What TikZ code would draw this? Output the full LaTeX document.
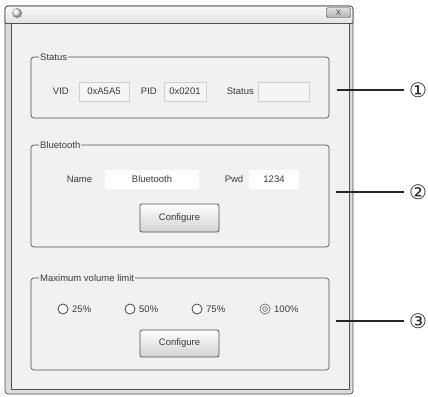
\documentclass[tikz,border=0pt]{standalone}
\usepackage{fontspec}
\setmainfont{Liberation Sans}
\newfontfamily\symfont{DejaVu Sans}
\definecolor{winbg}{HTML}{F1F1F2}
\definecolor{framegray}{HTML}{DCDCDC}
\definecolor{edge}{HTML}{505050}
\definecolor{txt}{HTML}{3A3A3A}
\definecolor{boxedge}{HTML}{CFCFCF}
\definecolor{boxfill}{HTML}{F5F5F5}
\tikzset{
  grp/.style={draw=edge, line width=0.7pt, rounded corners=3pt, minimum width=298pt, inner sep=0pt},
  grptitle/.style={fill=winbg, inner sep=1pt, anchor=west, text=txt},
  lbl/.style={text=txt, inner sep=1pt},
  valbox/.style={draw=boxedge, fill=boxfill, minimum height=19pt, inner sep=0pt, text=txt},
  whitebox/.style={fill=white, minimum height=19pt, inner sep=0pt, text=txt},
  btn/.style={draw=edge, line width=0.7pt, rounded corners=2pt, top color=white, bottom color=gray!35, minimum width=79pt, inner sep=0pt, text=txt},
  radio/.style={circle, draw=black!80, line width=0.7pt, fill=white, minimum size=10pt, inner sep=0pt},
  radiolbl/.style={anchor=west, text=txt, inner sep=1pt},
  callout/.style={line width=1.1pt, draw=black!85},
  num/.style={font=\symfont\fontsize{20}{20}\selectfont, anchor=center, inner sep=0pt, text=black!85}
}
\begin{document}
\begin{tikzpicture}[x=1pt,y=-1pt,font=\fontsize{9.5}{11}\selectfont]
\useasboundingbox (0,0) rectangle (428,396);
\fill[white] (0,0) rectangle (428,396);
% window frame
\draw[draw=edge, fill=framegray, line width=0.7pt, rounded corners=3pt] (5,6) rectangle (353,394);
\shade[top color=gray!5, bottom color=gray!22, rounded corners=3pt] (5.4,6.4) rectangle (352.6,23);
\draw[edge, line width=0.7pt] (5,23) -- (353,23);
\draw[draw=edge, fill=winbg, line width=0.7pt] (11,23) rectangle (349,389);
\draw[edge, line width=0.7pt, rounded corners=3pt] (5,23) -- (5,6) -- (353,6) -- (353,23);
% title bar widgets
\shade[ball color=gray!15] (17,13) circle (5pt);
\node[draw=gray!50!black, rounded corners=1.5pt, top color=gray!25, bottom color=gray!60, minimum width=24pt, minimum height=10pt, inner sep=0pt, font=\fontsize{8}{8}\selectfont, text=black!75] (close) at (338.5,12.5) {X};
% group 1: Status
\node[grp, minimum height=61pt] (g1) at (180,87.5) {};
\node[grptitle] (t1) at (39,57) {Status};
\node[lbl, anchor=east] (vid) at (70,91.5) {VID};
\node[valbox, minimum width=50pt] (vidv) at (104,91.5) {0xA5A5};
\node[lbl, anchor=east] (pid) at (158,91.5) {PID};
\node[valbox, minimum width=42pt] (pidv) at (185,91.5) {0x0201};
\node[lbl, anchor=east] (st) at (255,91.5) {Status};
\node[valbox, minimum width=51pt] (stv) at (283.5,91.5) {};
% group 2: Bluetooth
\node[grp, minimum height=102pt] (g2) at (180,196) {};
\node[grptitle] (t2) at (39,145) {Bluetooth};
\node[lbl] (name) at (79.5,179.5) {Name};
\node[whitebox, minimum width=94pt] (namev) at (152,179.5) {Bluetooth};
\node[lbl] (pwd) at (234,179.5) {Pwd};
\node[whitebox, minimum width=50pt] (pwdv) at (274,179.5) {1234};
\node[btn, minimum height=28pt] (cfg1) at (179.5,218) {Configure};
% group 3: Maximum volume limit
\node[grp, minimum height=92pt] (g3) at (180,324) {};
\node[grptitle] (t3) at (39,278) {Maximum volume limit};
\node[radio] (r1) at (63,309) {};
\node[radiolbl] (l1) at (71,309) {25\%};
\node[radio] (r2) at (130,309) {};
\node[radiolbl] (l2) at (138,309) {50\%};
\node[radio] (r3) at (197,309) {};
\node[radiolbl] (l3) at (205,309) {75\%};
\node[radio, draw=gray!80!black] (r4) at (265,309) {};
\draw[gray!80!black, line width=0.7pt] (r4.center) circle (2.4pt);
\fill[gray!70] (r4.center) circle (1pt);
\node[radiolbl] (l4) at (273,309) {100\%};
\node[btn, minimum height=27pt] (cfg2) at (179.5,343.5) {Configure};
% callouts
\node[num] (n1) at (418,90) {①};
\node[num] (n2) at (418,192) {②};
\node[num] (n3) at (418,321) {③};
\draw[callout] ([xshift=8pt]g1.east |- n1.center) -- ([xshift=-14pt]n1.center);
\draw[callout] ([xshift=7pt]g2.east |- n2.center) -- ([xshift=-14pt]n2.center);
\draw[callout] ([xshift=7pt]g3.east |- n3.center) -- ([xshift=-14pt]n3.center);
\end{tikzpicture}
\end{document}
